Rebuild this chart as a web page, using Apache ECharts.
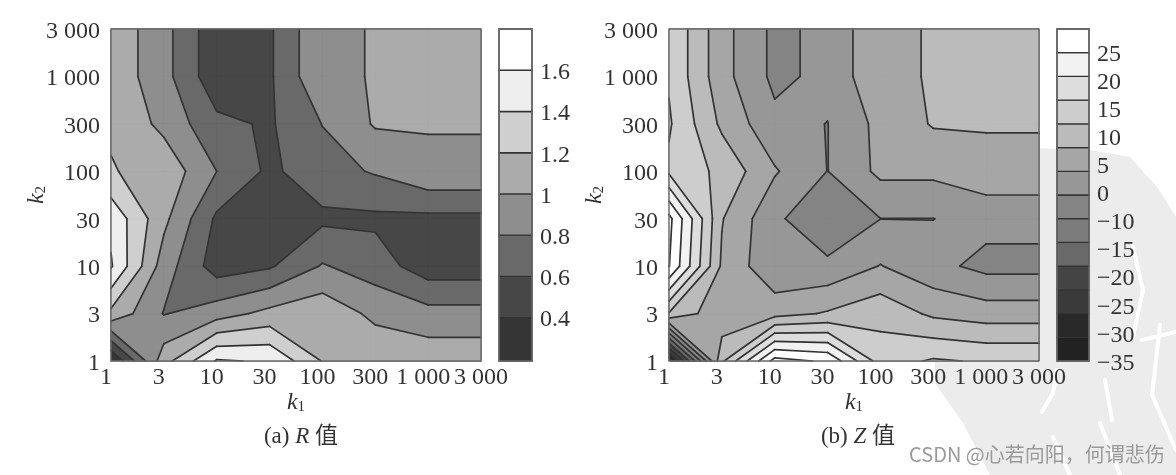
<!DOCTYPE html>
<html lang="zh">
<head>
<meta charset="UTF-8">
<title>R 值 / Z 值</title>
<script src="https://cdn.jsdelivr.net/npm/echarts@6/dist/echarts.min.js"></script>
<style>
    html, body { margin: 0; padding: 0; background: #fff; }
    #chart { width: 1176px; height: 475px; }
</style>
</head>
<body>
<div id="chart"></div>
<script>
    // tick labels, both plots use the same evenly spaced k1 / k2 steps
    const k1Labels = ['1', '3', '10', '30', '100', '300', '1 000', '3 000'];
    const k2Labels = ['1', '3', '10', '30', '100', '300', '1 000', '3 000'];

    // values, rows go from k2 = 1 up to k2 = 3 000
    const rValues = [
        [0.19, 1.12, 1.62, 1.58, 1.19, 1.16, 1.13, 1.13],
        [1.15, 0.79, 0.91, 1.06, 1.14, 0.95, 0.87, 0.87],
        [1.62, 0.9, 0.5, 0.575, 0.816, 0.7, 0.49, 0.49],
        [1.55, 1.05, 0.565, 0.45, 0.56, 0.56, 0.55, 0.55],
        [1.21, 1.14, 0.8, 0.56, 0.72, 0.82, 0.965, 0.965],
        [1.18, 0.945, 0.65, 0.575, 0.805, 1.02, 1.01, 1.01],
        [1.135, 0.87, 0.46, 0.57, 0.98, 1.005, 1.05, 1.05],
        [1.135, 0.87, 0.46, 0.57, 0.98, 1.005, 1.05, 1.05]
    ];
    const zValues = [
        [-33, 14, 36.9, 34.25, 17.6, 20.6, 19.5, 19.5],
        [14.6, 6.16, 8.1, 10.5, 13.4, 9, 7.5, 7.5],
        [35.2, 9.2, 1, 1.2, 5.2, 1.5, -1.5, -1.5],
        [36.5, 10.3, 1.1, -4.5, -0.05, -0.05, 1.7, 1.7],
        [19, 13.7, 5.5, -0.08, 6.17, 6.17, 8.3, 8.3],
        [20.6, 9, 1.3, -0.08, 6.5, 10.4, 10.4, 10.4],
        [19.5, 6.8, -1.2, 1.3, 9, 10.3, 12, 12],
        [19.5, 6.8, -1.2, 1.3, 9, 10.3, 12, 12]
    ];

    const rLevels = [0.4, 0.6, 0.8, 1, 1.2, 1.4, 1.6];
    const rRange = [0.19, 1.8];
    const rColors = ['#353535', '#474747', '#696969', '#8e8e8e', '#ababab', '#cfcfcf', '#eeeeee', '#ffffff'];
    const rTicks = ['0.4', '0.6', '0.8', '1', '1.2', '1.4', '1.6'];

    const zLevels = [-30, -25, -20, -15, -10, -5, 0, 5, 10, 15, 20, 25, 30, 35];
    const zRange = [-35, 35];
    const zColors = ['#222222', '#292929', '#3a3a3a', '#444444', '#696969', '#7c7c7c', '#848484', '#979797',
        '#a6a6a6', '#bbbbbb', '#cdcdcd', '#dddddd', '#f2f2f2', '#ffffff', '#ffffff'];
    // printed scale of the Z bar, not lined up with the colour steps in the book
    const zTicks = ['−35', '−30', '−25', '−20', '−15', '−10', '0', '5', '10', '15', '20', '25'];
    const zTickStep = 5.925;

    const serif = '"Liberation Serif", "Noto Sans CJK SC", serif';
    const lineColor = '#333333';

    function cellCorners(i, j, m) {
        return [
            { x: i, y: j, v: m[j][i] },
            { x: i + 1, y: j, v: m[j][i + 1] },
            { x: i + 1, y: j + 1, v: m[j + 1][i + 1] },
            { x: i, y: j + 1, v: m[j + 1][i] }
        ];
    }

    function cut(a, b, l) {
        const t = (l - a.v) / (b.v - a.v);
        return { x: a.x + (b.x - a.x) * t, y: a.y + (b.y - a.y) * t };
    }

    // marching squares for one cell and one level: filled parts above l and the contour pieces
    function contourCell(q, l) {
        const above = q.map(function (p) { return p.v >= l; });
        const edge = function (n) { return cut(q[n], q[(n + 1) % 4], l); };
        const saddle = above[0] === above[2] && above[1] === above[3] && above[0] !== above[1];
        if (saddle) {
            const mean = (q[0].v + q[1].v + q[2].v + q[3].v) / 4;
            const highJoined = mean >= l;
            const fills = [], segs = [];
            // the corners on the side that is not joined stay alone
            for (let n = 0; n < 4; n++) {
                if (above[n] === highJoined) continue;
                const prev = edge((n + 3) % 4), next = edge(n);
                segs.push([prev, next]);
                if (!highJoined) fills.push([prev, q[n], next]);
            }
            if (highJoined) fills.push(clip(q, l));
            return { fills: fills, segs: segs };
        }
        const pts = [];
        for (let n = 0; n < 4; n++) {
            if (above[n] !== above[(n + 1) % 4]) pts.push(edge(n));
        }
        return { fills: [clip(q, l)], segs: pts.length === 2 ? [pts] : [] };
    }

    function clip(q, l) {
        const out = [];
        q.forEach(function (p, n) {
            const next = q[(n + 1) % 4];
            if (p.v >= l) out.push(p);
            if ((p.v >= l) !== (next.v >= l)) out.push(cut(p, next, l));
        });
        return out;
    }

    function fillSeries(gridIndex, m, levels, colors) {
        // lowest band first, so every colour is painted over the one below it
        const items = [];
        for (let n = -1; n < levels.length; n++) {
            for (let j = 0; j < 7; j++) for (let i = 0; i < 7; i++) items.push([i, j, n]);
        }
        return {
            type: 'custom', xAxisIndex: gridIndex, yAxisIndex: gridIndex, z: 2, silent: true,
            data: items,
            renderItem: function (params, api) {
                const n = api.value(2);
                const q = cellCorners(api.value(0), api.value(1), m);
                const color = colors[n + 1];
                const parts = n < 0 ? [q] : contourCell(q, levels[n]).fills;
                return {
                    type: 'group',
                    children: parts.filter(function (p) { return p.length > 2; }).map(function (p) {
                        return {
                            type: 'polygon',
                            shape: { points: p.map(function (c) { return api.coord([c.x, c.y]); }) },
                            style: { fill: color, stroke: color, lineWidth: 0.7 }
                        };
                    })
                };
            }
        };
    }

    function lineSeries(gridIndex, m, levels) {
        const items = [];
        for (let n = 0; n < levels.length; n++) {
            for (let j = 0; j < 7; j++) for (let i = 0; i < 7; i++) items.push([i, j, n]);
        }
        return {
            type: 'custom', xAxisIndex: gridIndex, yAxisIndex: gridIndex, z: 3, silent: true,
            data: items,
            renderItem: function (params, api) {
                const q = cellCorners(api.value(0), api.value(1), m);
                const segs = contourCell(q, levels[api.value(2)]).segs;
                return {
                    type: 'group',
                    children: segs.map(function (s) {
                        return {
                            type: 'polyline',
                            shape: { points: s.map(function (c) { return api.coord([c.x, c.y]); }) },
                            style: { fill: null, stroke: lineColor, lineWidth: 1.7, lineCap: 'round' }
                        };
                    })
                };
            }
        };
    }

    function frameSeries(gridIndex, x0, x1, y0, y1) {
        return {
            type: 'custom', xAxisIndex: gridIndex, yAxisIndex: gridIndex, z: 4, silent: true,
            data: [[x0, y0]],
            renderItem: function (params, api) {
                const a = api.coord([x0, y1]), b = api.coord([x1, y0]);
                return {
                    type: 'rect',
                    shape: { x: a[0], y: a[1], width: b[0] - a[0], height: b[1] - a[1] },
                    style: { fill: null, stroke: '#6a6a6a', lineWidth: 1.4 }
                };
            }
        };
    }

    function barSeries(gridIndex, edges, colors) {
        return {
            type: 'custom', xAxisIndex: gridIndex, yAxisIndex: gridIndex, z: 2, silent: true,
            data: colors.map(function (c, n) { return [edges[n], edges[n + 1], n]; }),
            renderItem: function (params, api) {
                const a = api.coord([0, api.value(1)]), b = api.coord([1, api.value(0)]);
                return {
                    type: 'rect',
                    shape: { x: a[0], y: a[1], width: b[0] - a[0], height: b[1] - a[1] },
                    style: { fill: colors[api.value(2)], stroke: lineColor, lineWidth: 1.3 }
                };
            }
        };
    }

    const nameRich = {
        i: { fontFamily: serif, fontStyle: 'italic', fontSize: 24, color: '#333' },
        s: { fontFamily: serif, fontSize: 15, color: '#333', verticalAlign: 'bottom', padding: [10, 0, 0, 0] }
    };
    const tickRich = {
        n: { fontFamily: serif, fontSize: 24, color: '#333', padding: [5, 0, 0, 0] }
    };

    function plotXAxis(gridIndex) {
        return {
            type: 'value', gridIndex: gridIndex, min: 0, max: 7, interval: 1,
            name: '{i|k}{s|1}', nameLocation: 'middle', nameGap: 29, nameMoveOverlap: false,
            nameTextStyle: { rich: nameRich },
            axisLine: { show: false }, axisTick: { show: false }, splitLine: { show: false },
            axisLabel: {
                margin: 5,
                formatter: function (v) { return (v === 7 ? '{e|' : '{n|') + k1Labels[v] + '}'; },
                rich: {
                    n: { fontFamily: serif, fontSize: 24, color: '#333', padding: [0, 10, 0, 0] },
                    e: { fontFamily: serif, fontSize: 24, color: '#333' }
                }
            }
        };
    }

    function plotYAxis(gridIndex) {
        return {
            type: 'value', gridIndex: gridIndex, min: 0, max: 7, interval: 1,
            name: '{i|k}{s|2}', nameLocation: 'middle', nameGap: 62, nameRotate: 90, nameMoveOverlap: false,
            nameTextStyle: { rich: nameRich },
            axisLine: { show: false }, axisTick: { show: false }, splitLine: { show: false },
            axisLabel: {
                margin: 11, rich: tickRich,
                formatter: function (v) { return '{n|' + k2Labels[v] + '}'; }
            }
        };
    }

    function barXAxis(gridIndex) {
        return { type: 'value', gridIndex: gridIndex, min: 0, max: 1, show: false };
    }

    function barYAxis(gridIndex, range, values, labels) {
        return {
            type: 'value', gridIndex: gridIndex, position: 'right', min: range[0], max: range[1],
            axisLine: { show: false }, axisTick: { show: false }, splitLine: { show: false },
            axisLabel: {
                customValues: values, margin: 8, rich: tickRich,
                formatter: function (v) {
                    let best = 0;
                    values.forEach(function (x, n) { if (Math.abs(x - v) < Math.abs(values[best] - v)) best = n; });
                    return '{n|' + labels[best] + '}';
                }
            }
        };
    }

    const rEdges = [rRange[0]].concat(rLevels, [rRange[1]]);
    const zEdges = [zRange[0]].concat(zLevels.slice(0, 13), [zRange[1]]);
    const rTickAt = rTicks.map(Number);
    const zTickAt = zTicks.map(function (t, n) { return zRange[0] + n * zTickStep; });

    const watermarkShape = [[1030, 148], [1090, 150], [1130, 157], [1157, 187], [1176, 217], [1176, 475],
        [990, 475], [963, 423], [935, 383], [935, 362], [1030, 362]];
    const watermarkStrokes = [
        [[1042, 412], [1053, 393], [1057, 370]],
        [[1133, 247], [1143, 290], [1133, 337]],
        [[1142, 340], [1176, 332]],
        [[1160, 325], [1152, 395], [1176, 450]],
        [[1053, 437], [1070, 475]],
        [[1100, 423], [1120, 475]],
        [[1105, 380], [1112, 420]]
    ];

    const graphic = [{
        type: 'polygon', z: -10, silent: true,
        shape: { points: watermarkShape },
        style: { fill: '#ececec' }
    }].concat(watermarkStrokes.map(function (pts) {
        return {
            type: 'polyline', z: -9, silent: true,
            shape: { points: pts },
            style: { fill: null, stroke: '#ffffff', lineWidth: 4, lineCap: 'round' }
        };
    }));
    graphic.push({
        type: 'text', left: 909, top: 444, silent: true,
        style: { text: 'CSDN @心若向阳，何谓悲伤', fill: '#9a9a9a', fontSize: 20, fontFamily: '"Noto Sans CJK SC", sans-serif' }
    });

    const titleStyle = {
        fontFamily: serif, fontSize: 23, fontWeight: 'normal', color: '#333',
        rich: { i: { fontFamily: serif, fontStyle: 'italic', fontSize: 23, color: '#333' } }
    };

    const option = {
        backgroundColor: '#fff',
        animation: false,
        title: [
            { text: '(a) {i|R} 值', left: 296, top: 420, textAlign: 'center', textStyle: titleStyle },
            { text: '(b) {i|Z} 值', left: 853, top: 420, textAlign: 'center', textStyle: titleStyle }
        ],
        grid: [
            { left: 111, top: 29, width: 370, height: 332 },
            { left: 499, top: 29, width: 33, height: 332 },
            { left: 669, top: 29, width: 370, height: 332 },
            { left: 1057, top: 29, width: 32, height: 332 }
        ],
        xAxis: [plotXAxis(0), barXAxis(1), plotXAxis(2), barXAxis(3)],
        yAxis: [plotYAxis(0), barYAxis(1, rRange, rTickAt, rTicks), plotYAxis(2), barYAxis(3, zRange, zTickAt, zTicks)],
        series: [
            fillSeries(0, rValues, rLevels, rColors),
            lineSeries(0, rValues, rLevels),
            frameSeries(0, 0, 7, 0, 7),
            barSeries(1, rEdges, rColors),
            frameSeries(1, 0, 1, rRange[0], rRange[1]),
            fillSeries(2, zValues, zLevels, zColors),
            lineSeries(2, zValues, zLevels),
            frameSeries(2, 0, 7, 0, 7),
            barSeries(3, zEdges, zColors.slice(0, 14)),
            frameSeries(3, 0, 1, zRange[0], zRange[1])
        ],
        graphic: graphic
    };

    const chart = echarts.init(document.getElementById('chart'), null, { renderer: 'canvas' });
    chart.setOption(option);
</script>
</body>
</html>
